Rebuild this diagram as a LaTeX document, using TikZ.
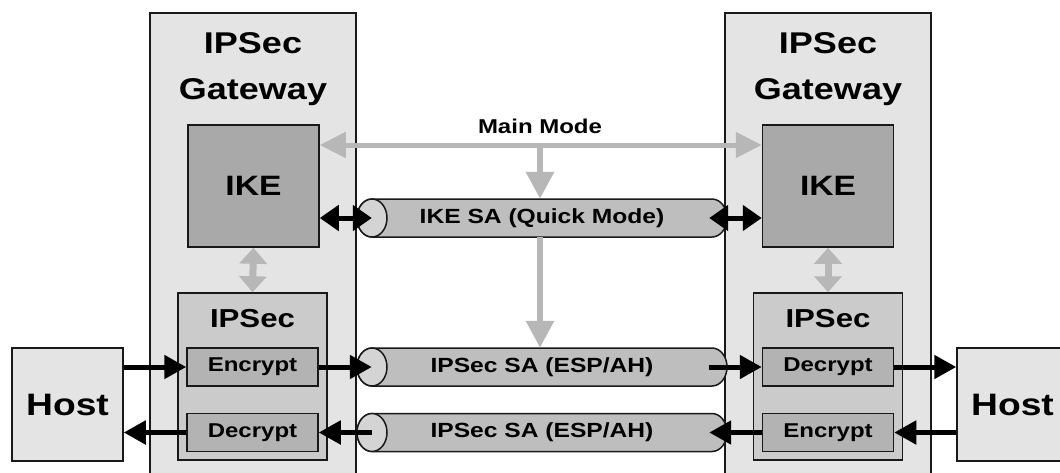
\documentclass[tikz,border=0pt]{standalone}
\usepackage{fontspec}
\setmainfont{Liberation Sans}[FakeStretch=1.2]
\usetikzlibrary{arrows.meta, calc}

\definecolor{gwgray}{HTML}{E4E4E4}
\definecolor{ikegray}{HTML}{A9A9A9}
\definecolor{ipsgray}{HTML}{CBCBCB}
\definecolor{boxgray}{HTML}{B3B3B3}
\definecolor{tubegray}{HTML}{BEBEBE}
\definecolor{facegray}{HTML}{D4D4D4}
\definecolor{arrowgray}{HTML}{B7B7B7}

\tikzset{
    box/.style={draw=black!90, line width=1.5pt, inner sep=0pt},
    gateway/.style={box, fill=gwgray, minimum width=206pt, minimum height=480pt},
    ike/.style={box, fill=ikegray, minimum width=131pt, minimum height=122pt,
        font=\fontsize{28}{30}\selectfont\bfseries},
    ipsec/.style={box, fill=ipsgray, minimum width=149pt, minimum height=167pt},
    crypt/.style={box, fill=boxgray, minimum width=131pt, minimum height=38pt,
        font=\fontsize{20}{22}\selectfont\bfseries},
    host/.style={box, fill=gwgray, minimum width=111pt, minimum height=113pt,
        font=\fontsize{31}{34}\selectfont\bfseries},
    sa/.style={inner sep=0pt, minimum width=370pt, minimum height=38pt,
        font=\fontsize{20.5}{22}\selectfont\bfseries},
    tube/.style={draw=black!90, line width=1.5pt, fill=tubegray},
    tubeend/.style={draw=black!90, line width=1.5pt, fill=facegray},
    title/.style={inner sep=0pt, align=center, font=\fontsize{30}{46}\selectfont\bfseries},
    subtitle/.style={inner sep=0pt, font=\fontsize{26}{28}\selectfont\bfseries},
    flow/.style={line width=5pt, -{Triangle[length=22pt, width=23pt]}},
    flows/.style={line width=5pt,
        {Triangle[length=19pt, width=25pt]}-{Triangle[length=19pt, width=25pt]}},
    mode/.style={draw=arrowgray, line width=5pt,
        {Triangle[length=26pt, width=25pt]}-{Triangle[length=26pt, width=25pt]}},
    modedown/.style={draw=arrowgray, line width=6pt, -{Triangle[length=27pt, width=27pt]}},
    control/.style={draw=arrowgray, line width=7pt,
        {Triangle[length=16pt, width=27pt]}-{Triangle[length=16pt, width=27pt]}},
}

\begin{document}
\begin{tikzpicture}[x=1pt, y=-1pt]
    \path[use as bounding box, clip] (0,0) rectangle (1060,472);

    % Gateways
    \node[gateway] (gwL) at (253,253) {};
    \node[gateway] (gwR) at (828,253) {};
    \node[title, anchor=north] (gwLtitle) at ($(gwL.north)+(0,20)$) {IPSec\\Gateway};
    \node[title, anchor=north] (gwRtitle) at ($(gwR.north)+(0,20)$) {IPSec\\Gateway};

    % IKE and IPSec blocks
    \node[ike] (ikeL) at (253.5,186) {IKE};
    \node[ike] (ikeR) at (828,186) {IKE};
    \node[ipsec] (ipsL) at (252.5,376.5) {};
    \node[ipsec] (ipsR) at (828,376.5) {};
    \node[subtitle, anchor=north] (ipsLtitle) at ($(ipsL.north)+(0,17)$) {IPSec};
    \node[subtitle, anchor=north] (ipsRtitle) at ($(ipsR.north)+(0,17)$) {IPSec};
    \node[crypt] (encL) at (252.5,367) {Encrypt};
    \node[crypt] (decL) at (252.5,432.5) {Decrypt};
    \node[crypt] (decR) at (828,367) {Decrypt};
    \node[crypt] (encR) at (828,432.5) {Encrypt};

    % Hosts
    \node[host] (hostL) at (67.5,404.5) {Host};
    \node[host] (hostR) at (1012.5,404.5) {Host};

    % Tunnels
    \coordinate (ikesaC) at (542,218);
    \coordinate (sa1C) at (542,367);
    \coordinate (sa2C) at (542,432.5);
    \foreach \c in {ikesaC, sa1C, sa2C} {
        \draw[tube] ($(\c)+(-170,-19)$) -- ++(340,0)
            arc[start angle=-90, end angle=90, x radius=15, y radius=19] -- ++(-340,0)
            arc[start angle=90, end angle=270, x radius=15, y radius=19] -- cycle;
        \draw[tubeend] ($(\c)+(-170,0)$) ellipse[x radius=15, y radius=19];
    }
    \node[sa] (ikesa) at (ikesaC) {IKE SA (Quick Mode)};
    \node[sa] (sa1) at (sa1C) {IPSec SA (ESP/AH)};
    \node[sa] (sa2) at (sa2C) {IPSec SA (ESP/AH)};

    % Key exchange
    \coordinate (mm) at (540,145);
    \node[font=\fontsize{20}{22}\selectfont\bfseries, anchor=base] (mmlabel) at (540,133) {Main Mode};
    \draw[mode] (ikeL.east |- mm) -- (ikeR.west |- mm);
    \draw[modedown] (mm) -- (ikesa.north -| mm);
    \draw[modedown] (ikesa.south -| mm) -- (sa1.north -| mm);
    \draw[control] (ikeL.south) -- (ipsL.north);
    \draw[control] (ikeR.south) -- (ipsR.north);

    % Traffic
    \draw[flows] (ikeL.east |- ikesa) -- ($(ikesa.west)+(15,0)$);
    \draw[flows] ($(ikesa.east)+(-18,0)$) -- (ikeR.west |- ikesa);
    \draw[flow] (hostL.east |- encL) -- (encL.west);
    \draw[flow] (encL.east) -- ($(sa1.west)+(15,0)$);
    \draw[flow] ($(sa1.east)+(-18,0)$) -- (decR.west);
    \draw[flow] (decR.east) -- (hostR.west |- decR);
    \draw[flow] (hostR.west |- encR) -- (encR.east);
    \draw[flow] (encR.west) -- ($(sa2.east)+(-18,0)$);
    \draw[flow] ($(sa2.west)+(15,0)$) -- (decL.east);
    \draw[flow] (decL.west) -- (hostL.east |- decL);
\end{tikzpicture}
\end{document}
